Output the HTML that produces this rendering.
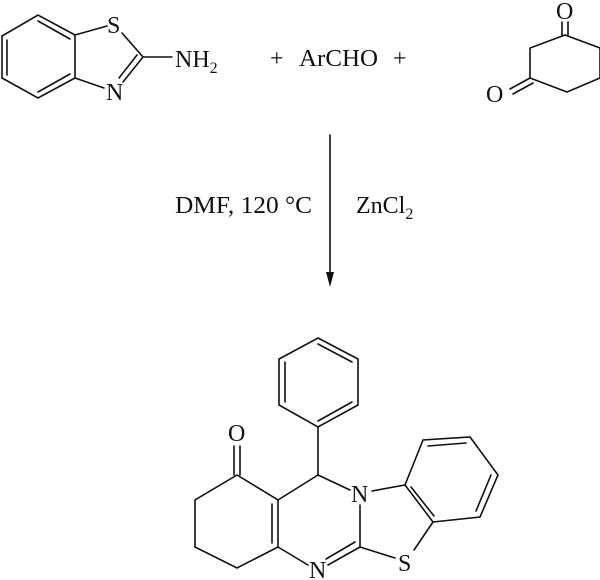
<!DOCTYPE html>
<html><head><meta charset="utf-8"><style>
html,body{margin:0;padding:0;background:#fff;}
svg{display:block;}
text{font-family:"Liberation Serif",serif;font-size:24px;fill:#111;}
</style></head><body>
<svg width="600" height="580" viewBox="0 0 600 580" xmlns="http://www.w3.org/2000/svg">
<g stroke="#111" stroke-width="1.6" fill="none" stroke-linecap="round">
<polyline points="75,35 38,15 2,36 2,78 38,98 75,78 75,35"/>
<line x1="38" y1="21" x2="70" y2="39"/>
<line x1="7" y1="40" x2="7" y2="75"/>
<line x1="38" y1="92" x2="70" y2="74"/>
<line x1="75" y1="35" x2="107" y2="26"/>
<line x1="122" y1="33" x2="143" y2="57"/>
<line x1="143" y1="57" x2="123" y2="82"/>
<line x1="137" y1="55" x2="119" y2="78"/>
<line x1="75" y1="78" x2="104" y2="88"/>
<line x1="143" y1="57" x2="172" y2="57"/>
<polyline points="600,48 565,35 530,48 530,78 567,92 600,78"/>
<line x1="600" y1="48" x2="600" y2="78"/>
<line x1="562" y1="35" x2="562" y2="22"/>
<line x1="568" y1="35" x2="568" y2="22"/>
<line x1="530" y1="78" x2="510" y2="89"/>
<line x1="533" y1="83" x2="513" y2="94"/>
<line x1="330" y1="135" x2="330" y2="278"/>
<polygon points="318,338 358,359 358,405 318,427 279,405 279,359"/>
<line x1="318" y1="344" x2="352" y2="362"/>
<line x1="285" y1="362" x2="285" y2="402"/>
<line x1="318" y1="421" x2="352" y2="402"/>
<line x1="318" y1="427" x2="318" y2="475"/>
<polyline points="237,475 195,500 195,547 237,568 278,547 278,500 237,475"/>
<line x1="272" y1="504" x2="272" y2="543"/>
<line x1="234" y1="475" x2="234" y2="446"/>
<line x1="240" y1="475" x2="240" y2="446"/>
<line x1="278" y1="500" x2="318" y2="475"/>
<line x1="318" y1="475" x2="350" y2="490"/>
<line x1="360" y1="505" x2="360" y2="547"/>
<line x1="360" y1="547" x2="328" y2="565"/>
<line x1="355" y1="542" x2="326" y2="559"/>
<line x1="278" y1="547" x2="308" y2="565"/>
<line x1="372" y1="491" x2="405" y2="485"/>
<line x1="405" y1="485" x2="433" y2="522"/>
<line x1="411" y1="487" x2="434" y2="516"/>
<line x1="433" y1="522" x2="414" y2="550"/>
<line x1="360" y1="547" x2="395" y2="558"/>
<polyline points="405,485 423,440 470,437 498,475 480,517 433,522"/>
<line x1="428" y1="446" x2="466" y2="443"/>
<line x1="491" y1="475" x2="476" y2="511"/>
</g>
<polygon points="326,272 334,272 330,287" fill="#111"/>
<text x="107" y="33">S</text>
<text x="106" y="100">N</text>
<text x="175" y="67">NH<tspan font-size="16" dy="6">2</tspan></text>
<text x="270" y="66">+</text>
<text x="299" y="66" textLength="79" lengthAdjust="spacingAndGlyphs">ArCHO</text>
<text x="393" y="66">+</text>
<text x="556" y="19">O</text>
<text x="486" y="102">O</text>
<text x="175" y="213" textLength="137" lengthAdjust="spacingAndGlyphs">DMF, 120 °C</text>
<text x="356" y="213">ZnCl<tspan font-size="16" dy="6">2</tspan></text>
<text x="228" y="441">O</text>
<text x="351" y="502">N</text>
<text x="309" y="578">N</text>
<text x="398" y="571">S</text>
</svg>
</body></html>
